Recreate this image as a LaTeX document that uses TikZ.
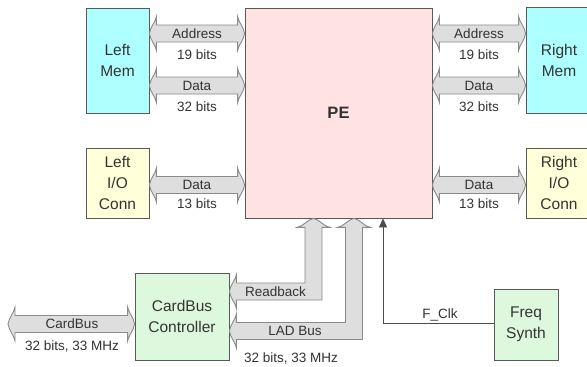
\documentclass[tikz,border=0pt]{standalone}
\usepackage{fontspec}
\setmainfont{Liberation Sans}
\usetikzlibrary{calc,arrows.meta}
\definecolor{memc}{HTML}{AEFFFF}
\definecolor{pec}{HTML}{FFE2E2}
\definecolor{ioc}{HTML}{FFFFD9}
\definecolor{grn}{HTML}{DDF8DD}
\definecolor{busf}{HTML}{DEDEDE}
\definecolor{busd}{HTML}{8A8A8A}
\definecolor{txt}{HTML}{333333}
\tikzset{
 blk/.style={draw=black!65, line width=0.8pt, inner sep=0pt, align=center,
   font=\fontsize{15.5}{21}\selectfont, text=txt},
 lbl/.style={font=\fontsize{13.5}{15}\selectfont, text=txt, inner sep=0pt},
 bus/.style={draw=busd, fill=busf, line width=0.9pt, line join=miter},
 clk/.style={draw=black!70, line width=0.8pt},
}
\newcommand\hbus[2]{%
 \path[bus] let \p1=#1, \p2=#2 in
 (\x1,\y1)
 .. controls ({\x1+1pt},{\y1+7pt}) and ({\x1+6pt},{\y1+11pt}) .. ({\x1+7pt},{\y1+17pt})
 -- ({\x1+7pt},{\y1+8.5pt}) -- ({\x2-7pt},{\y1+8.5pt}) -- ({\x2-7pt},{\y1+17pt})
 .. controls ({\x2-6pt},{\y1+11pt}) and ({\x2-1pt},{\y1+7pt}) .. (\x2,\y1)
 .. controls ({\x2-1pt},{\y1-7pt}) and ({\x2-6pt},{\y1-11pt}) .. ({\x2-7pt},{\y1-17pt})
 -- ({\x2-7pt},{\y1-8.5pt}) -- ({\x1+7pt},{\y1-8.5pt}) -- ({\x1+7pt},{\y1-17pt})
 .. controls ({\x1+6pt},{\y1-11pt}) and ({\x1+1pt},{\y1-7pt}) .. cycle;}
\newcommand\lbus[2]{%
 \path[bus] let \p1=#1, \p2=#2 in
 (\x1,\y1)
 .. controls ({\x1+1pt},{\y1+7pt}) and ({\x1+6pt},{\y1+11pt}) .. ({\x1+7pt},{\y1+17pt})
 -- ({\x1+7pt},{\y1+8.5pt}) -- ({\x2-8.5pt},{\y1+8.5pt}) -- ({\x2-8.5pt},{\y2-9pt})
 -- ({\x2-16.5pt},{\y2-9pt})
 .. controls ({\x2-10pt},{\y2-8pt}) and ({\x2-6pt},{\y2-1pt}) .. (\x2,\y2)
 .. controls ({\x2+6pt},{\y2-1pt}) and ({\x2+10pt},{\y2-8pt}) .. ({\x2+16.5pt},{\y2-9pt})
 -- ({\x2+8.5pt},{\y2-9pt}) -- ({\x2+8.5pt},{\y1-8.5pt}) -- ({\x1+7pt},{\y1-8.5pt})
 -- ({\x1+7pt},{\y1-17pt})
 .. controls ({\x1+6pt},{\y1-11pt}) and ({\x1+1pt},{\y1-7pt}) .. cycle;}
\begin{document}
\begin{tikzpicture}[x=1pt,y=-1pt]
\useasboundingbox (0,0) rectangle (587,367);
\clip (0,0) rectangle (587,367);
\fill[white] (0,0) rectangle (587,367);
% blocks
\node[blk, fill=memc, minimum width=63pt, minimum height=105pt] (lmem) at (117.5,60.5) {Left\\Mem};
\node[blk, fill=pec, minimum width=187pt, minimum height=210pt, font=\fontsize{16.5}{20}\selectfont\bfseries] (pe) at (338.5,113) {PE};
\node[blk, fill=memc, minimum width=66pt, minimum height=106pt] (rmem) at (559,60) {Right\\Mem};
\node[blk, fill=ioc, minimum width=63pt, minimum height=70pt] (lio) at (117.5,183) {Left\\I/O\\Conn};
\node[blk, fill=ioc, minimum width=66pt, minimum height=70pt] (rio) at (559,183) {Right\\I/O\\Conn};
\node[blk, fill=grn, minimum width=94pt, minimum height=87pt] (cbc) at (182,316.5) {CardBus\\Controller};
\node[blk, fill=grn, minimum width=64pt, minimum height=71pt] (fs) at (526,324.5) {Freq\\Synth};
% free end of the CardBus bus
\coordinate (cbfree) at (8,324);
% horizontal buses
\hbus{(lmem.east |- 0,33.5)}{(pe.west |- 0,33.5)}
\hbus{(lmem.east |- 0,85.5)}{(pe.west |- 0,85.5)}
\hbus{(lio.east |- 0,185)}{(pe.west |- 0,185)}
\hbus{(pe.east |- 0,33.5)}{(rmem.west |- 0,33.5)}
\hbus{(pe.east |- 0,85.5)}{(rmem.west |- 0,85.5)}
\hbus{(pe.east |- 0,185)}{(rio.west |- 0,185)}
\hbus{(cbfree)}{(cbc.west |- 0,324)}
% bent buses
\lbus{(cbc.east |- 0,291.5)}{(pe.south -| 313.5,0)}
\lbus{(cbc.east |- 0,331)}{(pe.south -| 354,0)}
% clock
\draw[clk, -{Triangle[length=9pt,width=8pt]}] (fs.west |- 0,323) -| (pe.south -| 383,0);
% labels
\node[lbl] (la1) at (197,33.5) {Address};
\node[lbl] (la2) at (197,55) {19 bits};
\node[lbl] (ld1) at (197,86) {Data};
\node[lbl] (ld2) at (197,107) {32 bits};
\node[lbl] (li1) at (197,185) {Data};
\node[lbl] (li2) at (197,204) {13 bits};
\node[lbl] (ra1) at (479,33.5) {Address};
\node[lbl] (ra2) at (479,55) {19 bits};
\node[lbl] (rd1) at (479,86) {Data};
\node[lbl] (rd2) at (479,107) {32 bits};
\node[lbl] (ri1) at (479,185) {Data};
\node[lbl] (ri2) at (479,204) {13 bits};
\node[lbl] (cb1) at (72,324) {CardBus};
\node[lbl] (cb2) at (72,346) {32 bits, 33 MHz};
\node[lbl, anchor=west] (rb) at (245,291.5) {Readback};
\node[lbl] (lad) at (295,331) {LAD Bus};
\node[lbl] (lad2) at (291,358) {32 bits, 33 MHz};
\node[lbl] (fc) at (440,315) {F\_Clk};
\end{tikzpicture}
\end{document}
